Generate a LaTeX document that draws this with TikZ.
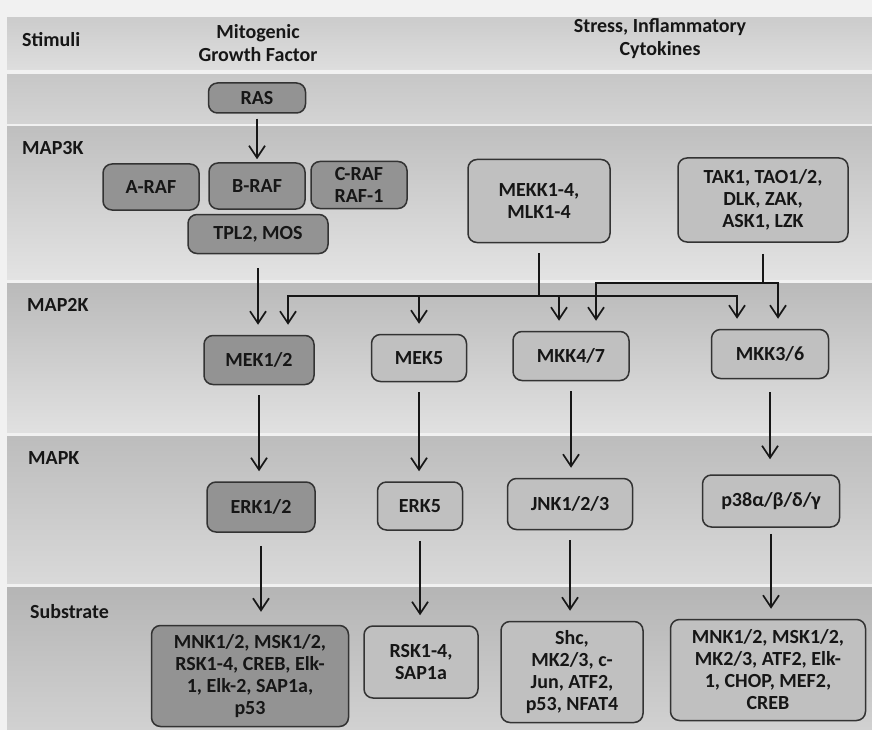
\documentclass[tikz,border=0pt]{standalone}
\usepackage{fontspec}
\setmainfont{Carlito}
\usetikzlibrary{arrows.meta}

\definecolor{pagebg}{HTML}{F1F1F1}
\definecolor{ink}{HTML}{161616}
\definecolor{boxline}{HTML}{333333}
\definecolor{lightfill}{HTML}{C0C0C0}
\definecolor{darkfill}{HTML}{939393}

\tikzset{
  kbox/.style={draw=boxline, line width=1.5pt, rounded corners=9pt, fill=lightfill,
    text=ink, align=center, inner sep=2pt, font=\bfseries\fontsize{20}{22}\selectfont},
  dkbox/.style={kbox, fill=darkfill},
  rowlabel/.style={anchor=west, text=ink, inner sep=0pt, font=\bfseries\fontsize{20}{22}\selectfont},
  headlabel/.style={text=ink, align=center, inner sep=0pt, font=\bfseries\fontsize{20}{23}\selectfont},
  link/.style={draw=ink, line width=1.7pt},
  arr/.style={link, -{Straight Barb[length=12pt,width=16pt]}, shorten <=10pt, shorten >=10pt},
}

\begin{document}
\begin{tikzpicture}[x=1pt, y=-1pt]
  \useasboundingbox (0,0) rectangle (872,730);
  \fill[pagebg] (0,0) rectangle (872,730);

  % bands
  \shade[top color=black!20, bottom color=black!13] (7,18) rectangle (872,70);
  \shade[top color=black!22, bottom color=black!17] (7,75) rectangle (872,124);
  \shade[top color=black!25, bottom color=black!11] (7,127) rectangle (872,279);
  \shade[top color=black!27, bottom color=black!12] (7,283) rectangle (872,432);
  \shade[top color=black!26, bottom color=black!15] (7,436) rectangle (872,583);
  \shade[top color=black!29, bottom color=black!18] (7,587) rectangle (872,730);

  % row labels
  \node[rowlabel] (lstim) at (22,40) {Stimuli};
  \node[rowlabel] (lmap3k) at (22,148) {MAP3K};
  \node[rowlabel] (lmap2k) at (27,305) {MAP2K};
  \node[rowlabel] (lmapk) at (28,458) {MAPK};
  \node[rowlabel] (lsub) at (30,612) {Substrate};
  \node[headlabel] (mitogen) at (258,43) {Mitogenic\\Growth Factor};
  \node[headlabel] (stress) at (660,39) {Stress, Inflammatory\\Cytokines};

  % MAP3K level
  \node[dkbox, minimum width=97pt, minimum height=30pt] (ras) at (257,98) {RAS};
  \node[dkbox, minimum width=96pt, minimum height=46pt] (araf) at (151,187) {A-RAF};
  \node[dkbox, minimum width=96pt, minimum height=46pt] (braf) at (257,186) {B-RAF};
  \node[dkbox, minimum width=96pt, minimum height=47pt] (craf) at (359,185) {C-RAF\\RAF-1};
  \node[dkbox, minimum width=140pt, minimum height=39pt] (tpl) at (258,234) {TPL2, MOS};
  \node[kbox, minimum width=142pt, minimum height=83pt] (mekk) at (539,201) {MEKK1-4,\\MLK1-4};
  \node[kbox, minimum width=170pt, minimum height=84pt] (tak) at (763,200) {TAK1, TAO1/2,\\DLK, ZAK,\\ASK1, LZK};

  % MAP2K level
  \node[dkbox, minimum width=110pt, minimum height=49pt] (mek12) at (259,360) {MEK1/2};
  \node[kbox, minimum width=95pt, minimum height=47pt] (mek5) at (419,358) {MEK5};
  \node[kbox, minimum width=116pt, minimum height=49pt] (mkk47) at (571,356) {MKK4/7};
  \node[kbox, minimum width=117pt, minimum height=49pt] (mkk36) at (770,354) {MKK3/6};

  % MAPK level
  \node[dkbox, minimum width=108pt, minimum height=50pt] (erk12) at (261,507) {ERK1/2};
  \node[kbox, minimum width=85pt, minimum height=48pt] (erk5) at (420,506) {ERK5};
  \node[kbox, minimum width=125pt, minimum height=51pt] (jnk) at (570,504) {JNK1/2/3};
  \node[kbox, minimum width=137pt, minimum height=52pt] (p38) at (771,501) {p38α/β/δ/γ};

  % substrates
  \node[dkbox, minimum width=197pt, minimum height=101pt] (sub1) at (250,676) {MNK1/2, MSK1/2,\\RSK1-4, CREB, Elk-\\1, Elk-2, SAP1a,\\p53};
  \node[kbox, minimum width=114pt, minimum height=72pt] (sub2) at (421,662) {RSK1-4,\\SAP1a};
  \node[kbox, minimum width=142pt, minimum height=101pt] (sub3) at (572,672) {Shc,\\MK2/3, c-\\Jun, ATF2,\\p53, NFAT4};
  \node[kbox, minimum width=195pt, minimum height=101pt] (sub4) at (768,670) {MNK1/2, MSK1/2,\\MK2/3, ATF2, Elk-\\1, CHOP, MEF2,\\CREB};

  \coordinate (busA) at (0,296);
  \coordinate (busB) at (0,283);

  % arrows
  \draw[arr, shorten <=5pt, shorten >=3pt] (ras) -- (braf);
  \draw[arr, shorten <=14pt] (tpl) -- (tpl |- mek12.north);
  \draw[link, shorten <=10pt] (mekk.south) -- (mekk.south |- busA);
  \draw[arr, shorten <=0pt] (mekk.south |- busA) -| ([xshift=29pt]mek12.north);
  \draw[arr, shorten <=0pt] (mekk.south |- busA) -| (mek5.north);
  \draw[arr, shorten <=0pt] (mekk.south |- busA) -| ([xshift=-12pt]mkk47.north);
  \draw[arr, shorten <=0pt] (mekk.south |- busA) -| ([xshift=-33pt]mkk36.north);
  \draw[link, shorten <=11pt] (tak.south) -- (tak.south |- busB);
  \draw[arr, shorten <=0pt] (tak.south |- busB) -| ([xshift=25pt]mkk47.north);
  \draw[arr, shorten <=0pt] (tak.south |- busB) -| ([xshift=8pt]mkk36.north);

  \draw[arr] (mek12.south) -- (mek12.south |- erk12.north);
  \draw[arr] (mek5.south) -- (mek5.south |- erk5.north);
  \draw[arr] (mkk47.south) -- (mkk47.south |- jnk.north);
  \draw[arr, shorten <=13pt, shorten >=15pt] (mkk36.south) -- (mkk36.south |- p38.north);

  \draw[arr, shorten <=13pt, shorten >=13pt] (erk12.south) -- (erk12.south |- sub1.north);
  \draw[arr] (erk5.south) -- (erk5.south |- sub2.north);
  \draw[arr] (jnk.south) -- (jnk.south |- sub3.north);
  \draw[arr, shorten <=6pt] (p38.south) -- (p38.south |- sub4.north);
\end{tikzpicture}
\end{document}
